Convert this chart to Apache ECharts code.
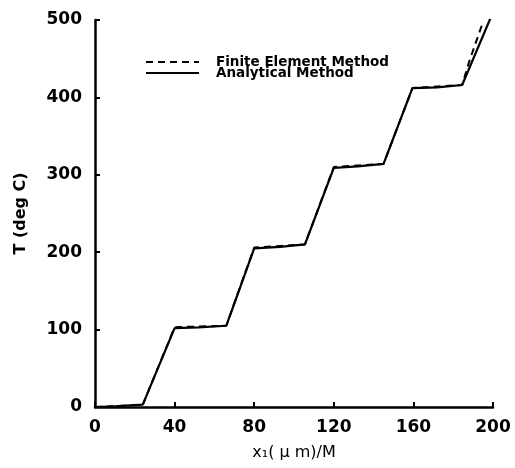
<!DOCTYPE html>
<html>
<head>
<meta charset="utf-8">
<script src="https://cdn.jsdelivr.net/npm/echarts@6/dist/echarts.min.js"></script>
<style>html,body{margin:0;padding:0;background:#fff;}#c{width:515px;height:468px;}</style>
</head>
<body>
<div id="c"></div>
<script>
var xTicks = [0, 40, 80, 120, 160, 200];
var yTicks = [0, 100, 200, 300, 400, 500];
var femX = [0, 10, 24, 40, 52, 66, 80, 93, 105.5, 120, 132, 145, 159.5, 172, 184.5, 188, 194.5];
var femT = [0, 1, 3, 103, 104, 105, 206, 208, 210, 310, 312, 314, 412, 414, 416, 446, 494];
var anaX = [0, 10, 24, 40, 52, 66, 80, 93, 105.5, 120, 132, 145, 159.5, 172, 184.5, 199];
var anaT = [0, 1, 3, 102, 103, 105, 205, 207, 210, 309, 311, 314, 412, 413, 416, 504];

function pairs(xs, ys) { return xs.map(function (x, i) { return [x, ys[i]]; }); }

var font = '"DejaVu Sans", sans-serif';
var chart = echarts.init(document.getElementById('c'), null, { renderer: 'canvas' });
chart.setOption({
  backgroundColor: '#fff',
  animation: false,
  grid: { left: 95, right: 22, top: 20, bottom: 61 },
  legend: {
    orient: 'vertical', left: 140, top: 50, itemWidth: 53, itemHeight: 10, itemGap: -3,
    itemStyle: { opacity: 0 },
    textStyle: { fontFamily: font, fontSize: 13.5, fontWeight: 'bold', color: '#000',
      padding: [0, 0, 0, 12] },
    data: ['Finite Element Method', 'Analytical Method']
  },
  xAxis: {
    type: 'value', min: 0, max: 200, interval: 40,
    name: 'x\u2081( \u03bc m)/M', nameLocation: 'middle', nameGap: 38,
    nameTextStyle: { fontFamily: font, fontSize: 16, color: '#000' },
    axisLine: { lineStyle: { color: '#000', width: 2.5 } },
    axisTick: { inside: true, length: 5, lineStyle: { color: '#000', width: 2 } },
    axisLabel: { fontFamily: font, fontSize: 17, fontWeight: 'bold', color: '#000', margin: 12,
      formatter: function (v) { return xTicks.indexOf(v) >= 0 ? String(v) : ''; } },
    splitLine: { show: false }
  },
  yAxis: {
    type: 'value', min: 0, max: 500, interval: 100,
    name: 'T (deg C)', nameLocation: 'middle', nameGap: 66, nameRotate: 90,
    nameTextStyle: { fontFamily: font, fontSize: 16, fontWeight: 'bold', color: '#000' },
    axisLine: { show: true, lineStyle: { color: '#000', width: 2.5 } },
    axisTick: { show: true, inside: true, length: 5, lineStyle: { color: '#000', width: 2 } },
    axisLabel: { fontFamily: font, fontSize: 17, fontWeight: 'bold', color: '#000', margin: 13,
      formatter: function (v) { return yTicks.indexOf(v) >= 0 ? String(v) : ''; } },
    splitLine: { show: false }
  },
  series: [
    { name: 'Finite Element Method', type: 'line', data: pairs(femX, femT), symbol: 'none',
      lineStyle: { color: '#000', width: 2, type: [7, 5] }, itemStyle: { color: '#000' } },
    { name: 'Analytical Method', type: 'line', data: pairs(anaX, anaT), symbol: 'none',
      lineStyle: { color: '#000', width: 2.2, type: 'solid' }, itemStyle: { color: '#000' } }
  ]
});
</script>
</body>
</html>
